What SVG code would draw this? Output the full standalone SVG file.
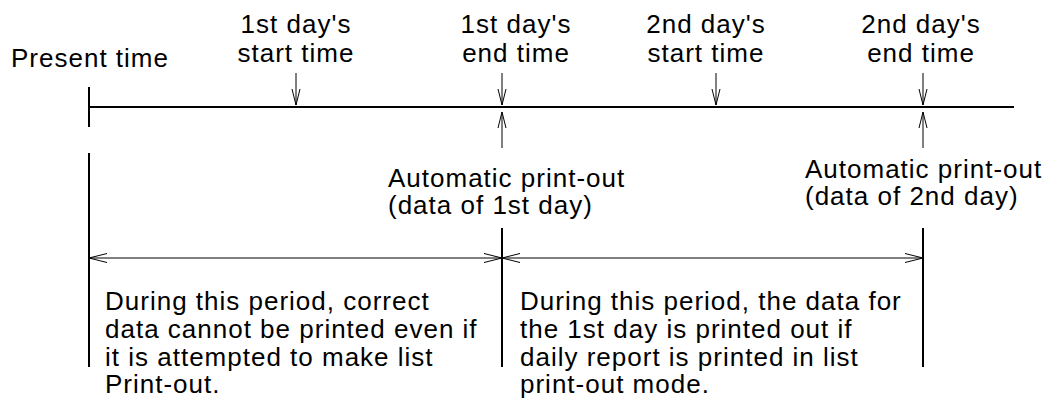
<svg xmlns="http://www.w3.org/2000/svg" width="1050" height="409" viewBox="0 0 1050 409">
<defs>
<marker id="ah" markerUnits="userSpaceOnUse" markerWidth="20" markerHeight="12" refX="18" refY="5" orient="auto-start-reverse" viewBox="0 0 20 12">
<path d="M0,0.5 L18,5 L0,9.5" fill="none" stroke="#000" stroke-width="1"/>
</marker>
<marker id="as" markerUnits="userSpaceOnUse" markerWidth="18" markerHeight="12" refX="16" refY="5" orient="auto-start-reverse" viewBox="0 0 18 12">
<path d="M0,1 L16,5 L0,9" fill="none" stroke="#000" stroke-width="1"/>
</marker>
</defs>
<style>
text{font-family:"Liberation Sans",Arial,sans-serif;font-size:26px;fill:#000;letter-spacing:1px}
.m{text-anchor:middle}
.thick{stroke:#000;stroke-width:2;fill:none}
.thin{stroke:#000;stroke-width:1;fill:none}
</style>
<rect width="1050" height="409" fill="#fff"/>
<g id="connectors">
<line class="thick" x1="89" y1="107" x2="1014" y2="107"/>
<line class="thick" x1="89" y1="87" x2="89" y2="127"/>
<line class="thin" x1="296" y1="73" x2="296" y2="105" marker-end="url(#as)"/>
<line class="thin" x1="502" y1="73" x2="502" y2="105" marker-end="url(#as)"/>
<line class="thin" x1="716" y1="73" x2="716" y2="105" marker-end="url(#as)"/>
<line class="thin" x1="923" y1="73" x2="923" y2="105" marker-end="url(#as)"/>
<line class="thin" x1="502" y1="148" x2="502" y2="112" marker-end="url(#as)"/>
<line class="thin" x1="923" y1="148" x2="923" y2="112" marker-end="url(#as)"/>
<line class="thick" x1="89" y1="153" x2="89" y2="367"/>
<line class="thick" x1="502" y1="228" x2="502" y2="367"/>
<line class="thick" x1="923" y1="228" x2="923" y2="367"/>
<line class="thin" x1="89" y1="258" x2="502" y2="258" marker-start="url(#ah)" marker-end="url(#ah)"/>
<line class="thin" x1="502" y1="258" x2="923" y2="258" marker-start="url(#ah)" marker-end="url(#ah)"/>
</g>
<g id="present"><text x="11" y="67">Present time</text></g>
<g id="start1"><text class="m" x="296" y="33">1st day's</text><text class="m" x="296" y="62">start time</text></g>
<g id="end1"><text class="m" x="516" y="33">1st day's</text><text class="m" x="516" y="62">end time</text></g>
<g id="start2"><text class="m" x="706" y="33">2nd day's</text><text class="m" x="706" y="62">start time</text></g>
<g id="end2"><text class="m" x="921" y="33">2nd day's</text><text class="m" x="921" y="62">end time</text></g>
<g id="print1"><text x="388" y="187">Automatic print-out</text><text x="388" y="214">(data of 1st day)</text></g>
<g id="print2"><text x="805" y="178">Automatic print-out</text><text x="805" y="205">(data of 2nd day)</text></g>
<g id="period1"><text x="105" y="310">During this period, correct</text><text x="105" y="338">data cannot be printed even if</text><text x="105" y="366">it is attempted to make list</text><text x="105" y="393">Print-out.</text></g>
<g id="period2"><text x="520" y="310">During this period, the data for</text><text x="520" y="338">the 1st day is printed out if</text><text x="520" y="366">daily report is printed in list</text><text x="520" y="393">print-out mode.</text></g>
</svg>
